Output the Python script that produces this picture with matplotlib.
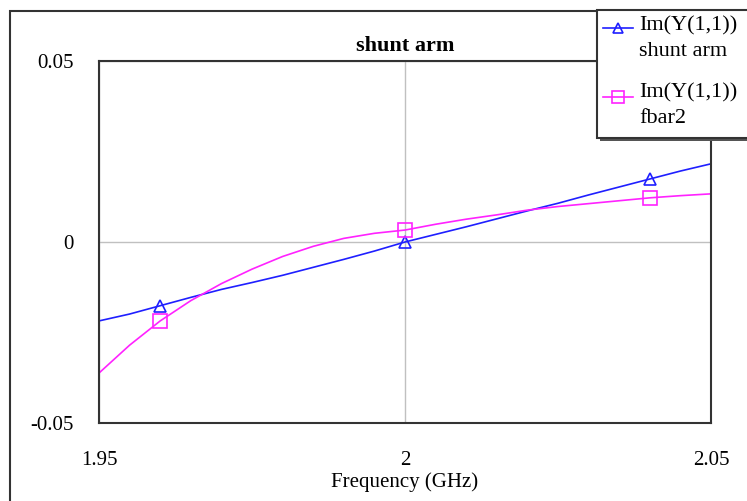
import numpy as np
import matplotlib
matplotlib.use("Agg")
import matplotlib.pyplot as plt
from matplotlib.patches import Rectangle
from matplotlib.lines import Line2D

# Frequency sweep (GHz) and Im(Y(1,1)) for the two networks
freq = [1.950, 1.955, 1.960, 1.965, 1.970, 1.975, 1.980, 1.985, 1.990, 1.995,
        2.000, 2.005, 2.010, 2.015, 2.020, 2.025, 2.030, 2.035, 2.040, 2.045, 2.050]
im_shunt = [-0.0218, -0.0199, -0.0176, -0.0153, -0.0131, -0.0112, -0.0092, -0.0070,
            -0.0048, -0.0025, 0.0000, 0.0021, 0.0042, 0.0064, 0.0086, 0.0107,
            0.0130, 0.0152, 0.0174, 0.0196, 0.0216]
im_fbar2 = [-0.0362, -0.0285, -0.0218, -0.0162, -0.0115, -0.0075, -0.0040, -0.0012,
            0.0010, 0.0024, 0.0033, 0.0049, 0.0063, 0.0075, 0.0088, 0.0098,
            0.0106, 0.0114, 0.0122, 0.0128, 0.0133]
marker_idx = [2, 10, 18]

series_labels = ["Im(Y(1,1))\nshunt arm", "Im(Y(1,1))\nfbar2"]
xticks = [1.95, 2.0, 2.05]
xtick_labels = ["1.95", "2", "2.05"]
yticks = [-0.05, 0.0, 0.05]
ytick_labels = ["-0.05", "0", "0.05"]

W, H = 747, 501
fig = plt.figure(figsize=(W / 100, H / 100), dpi=100)
ax = fig.add_axes([99 / W, 1 - 423 / H, (711 - 99) / W, (423 - 61) / H])

serif = ["Liberation Serif", "DejaVu Serif"]

blue = "#1f1fff"
pink = "#ff22ff"

ax.plot(freq, im_shunt, color=blue, lw=1.2, marker="^", markevery=marker_idx,
        ms=9, mfc="none", mec=blue, mew=1.2)
ax.plot(freq, im_fbar2, color=pink, lw=1.2, marker="s", markevery=marker_idx,
        ms=10, mfc="none", mec=pink, mew=1.2)

ax.set_xlim(1.95, 2.05)
ax.set_ylim(-0.05, 0.05)
ax.set_xticks(xticks)
ax.set_xticklabels(xtick_labels, family=serif, fontsize=15)
ax.set_yticks(yticks)
ax.set_yticklabels(ytick_labels, family=serif, fontsize=15)
ax.tick_params(length=0)
ax.tick_params(axis="x", pad=20)
ax.tick_params(axis="y", pad=18)
ax.grid(True, color="#c0c0c0", lw=1.0)
for s in ax.spines.values():
    s.set_color("#333333")
    s.set_linewidth(1.5)

ax.set_title("shunt arm", family=serif, fontsize=16, fontweight="bold", pad=7)
ax.set_xlabel("Frequency (GHz)", family=serif, fontsize=15, labelpad=2)

# outer frame around the whole chart area
fig.patches.append(Rectangle((10 / W, -0.1), 1.2, 1 - 11 / H + 0.1,
                             transform=fig.transFigure, fill=False,
                             ec="#333333", lw=1.5, zorder=0))

# legend box with shadow
lx, ly, lw_, lh = 597 / W, 1 - 138 / H, 0.3, 128 / H
fig.patches.append(Rectangle((lx + 3 / W, ly - 3 / H), lw_, lh,
                             transform=fig.transFigure, fc="#555555",
                             ec="none", zorder=5))
fig.patches.append(Rectangle((lx, ly), lw_, lh, transform=fig.transFigure,
                             fc="white", ec="#333333", lw=1.5, zorder=6))

entries = [(blue, "^", 9, series_labels[0], 28, 39),
           (pink, "s", 10, series_labels[1], 97, 106)]
for color, mk, ms, label, yline, ytext in entries:
    yf = 1 - yline / H
    fig.lines.append(Line2D([603 / W, 633 / W], [yf, yf], transform=fig.transFigure,
                            color=color, lw=1.2, zorder=7))
    fig.lines.append(Line2D([618 / W], [yf], transform=fig.transFigure,
                            marker=mk, ms=ms * 0.8, mfc="none", mec=color,
                            mew=1.2, zorder=7))
    fig.text(639 / W, 1 - ytext / H, label, family=serif, fontsize=16,
             va="center", ha="left", linespacing=1.45, zorder=8)

fig.savefig("out.png", dpi=100)
